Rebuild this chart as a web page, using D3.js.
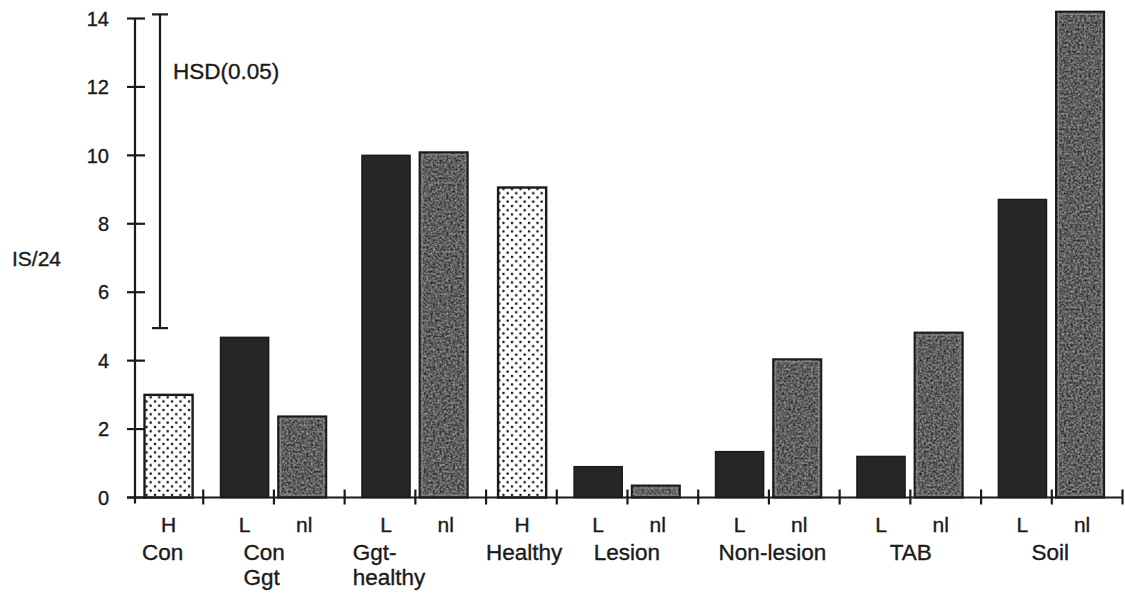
<!DOCTYPE html>
<html><head><meta charset="utf-8">
<script src="https://cdn.jsdelivr.net/npm/d3@7"></script>
<style>
html,body{margin:0;padding:0;background:#fff;}
text{font-family:"Liberation Sans",Arial,Helvetica,sans-serif;fill:#1a1a1a;stroke:#1a1a1a;stroke-width:0.35px;}
</style></head>
<body>
<svg id="chart" width="1125" height="593"></svg>
<script>
// ---- data ----
const groupLabels = ["Con", "Con\nGgt", "Ggt-\nhealthy", "Healthy", "Lesion", "Non-lesion", "TAB", "Soil"];
const barGroup = [0, 1, 1, 2, 2, 3, 4, 4, 5, 5, 6, 6, 7, 7];
const barType  = ["H", "L", "nl", "L", "nl", "H", "L", "nl", "L", "nl", "L", "nl", "L", "nl"];
const values   = [3.0, 4.68, 2.37, 10.0, 10.09, 9.06, 0.9, 0.35, 1.34, 4.04, 1.2, 4.82, 8.71, 14.2];
const yTicks   = [0, 2, 4, 6, 8, 10, 12, 14];
const hsd      = [4.95, 14.12];
const hsdLabel = "HSD(0.05)";
const yLabel   = "IS/24";

// ---- layout ----
const svg = d3.select("#chart");
const x0 = 132.5, x1 = 1122.5, yBase = 497.5, yTop = 18.5;
const x = d3.scaleBand().domain(d3.range(values.length)).range([x0, x1]).paddingInner(0).paddingOuter(0);
const y = d3.scaleLinear().domain([0, 14]).range([yBase, yTop]);
const bw = x.bandwidth();
const barW = bw * 0.68;
const offset = {H: 0.17, L: 0.245, nl: 0.06};
const barX = i => x(i) + bw * offset[barType[i]];

// defs: patterns
const defs = svg.append("defs");
const dots = defs.append("pattern").attr("id", "dots").attr("patternUnits", "userSpaceOnUse")
  .attr("width", 8.5).attr("height", 8.5);
dots.append("rect").attr("width", 8.5).attr("height", 8.5).attr("fill", "#fff");
dots.append("circle").attr("cx", 2).attr("cy", 2).attr("r", 1.3).attr("fill", "#111");
dots.append("circle").attr("cx", 6.25).attr("cy", 6.25).attr("r", 1.3).attr("fill", "#111");

const f = defs.append("filter").attr("id", "grain").attr("x", 0).attr("y", 0).attr("width", 1).attr("height", 1)
  .attr("color-interpolation-filters", "sRGB");
f.append("feTurbulence").attr("type", "fractalNoise").attr("baseFrequency", 0.45).attr("numOctaves", 2).attr("seed", 5);
f.append("feColorMatrix").attr("type", "matrix")
  .attr("values", "0.7 0 0 0 0.02  0.7 0 0 0 0.02  0.7 0 0 0 0.02  0 0 0 0 1");

// bars
const bars = svg.append("g");
values.forEach((v, i) => {
  const t = barType[i];
  const bx = barX(i), by = y(v), bh = yBase - y(v);
  if (t === "nl") {
    bars.append("rect").attr("x", bx).attr("y", by).attr("width", barW).attr("height", bh)
      .attr("fill", "#555").attr("filter", "url(#grain)");
    bars.append("rect").attr("x", bx + 2.5).attr("y", by + 2.5).attr("width", barW - 5).attr("height", Math.max(0, bh - 5))
      .attr("fill", "none").attr("stroke", "#8a8a8a").attr("stroke-width", 1);
    bars.append("rect").attr("x", bx).attr("y", by).attr("width", barW).attr("height", bh)
      .attr("fill", "none").attr("stroke", "#1a1a1a").attr("stroke-width", 2);
  } else if (t === "L") {
    bars.append("rect").attr("x", bx).attr("y", by).attr("width", barW).attr("height", bh)
      .attr("fill", "#262626").attr("stroke", "#1a1a1a").attr("stroke-width", 1.5);
  } else {
    bars.append("rect").attr("x", bx).attr("y", by).attr("width", barW).attr("height", bh)
      .attr("fill", "url(#dots)").attr("stroke", "#1a1a1a").attr("stroke-width", 2.4);
  }
});

// x axis
const ax = svg.append("g").attr("stroke", "#1a1a1a").attr("stroke-width", 2.2);
ax.append("line").attr("x1", 127).attr("x2", x1).attr("y1", yBase).attr("y2", yBase);
d3.range(1, values.length + 1).forEach(k => {
  const tx = x0 + k * bw;
  ax.append("line").attr("x1", tx).attr("x2", tx).attr("y1", yBase - 8).attr("y2", yBase + 7);
});

// y axis
const yAxisX = 135;
const ay = svg.append("g").attr("stroke", "#1a1a1a").attr("stroke-width", 2.2);
ay.append("line").attr("x1", yAxisX).attr("x2", yAxisX).attr("y1", y(14)).attr("y2", yBase + 6);
yTicks.forEach(t => {
  ay.append("line").attr("x1", yAxisX - 8).attr("x2", yAxisX + 10).attr("y1", y(t)).attr("y2", y(t));
});
svg.append("g").selectAll("text").data(yTicks).join("text")
  .attr("x", 109).attr("y", d => y(d)).attr("dy", "0.36em").attr("text-anchor", "end")
  .attr("font-size", 20).text(d => d);

svg.append("text").attr("x", 12).attr("y", y(7)).attr("dy", "0.36em")
  .attr("font-size", 21).text(yLabel);

// HSD bar
const hx = 160;
const hg = svg.append("g").attr("stroke", "#1a1a1a").attr("stroke-width", 2.2);
hg.append("line").attr("x1", hx).attr("x2", hx).attr("y1", y(hsd[1])).attr("y2", y(hsd[0]));
hsd.forEach(v => hg.append("line").attr("x1", hx - 8).attr("x2", hx + 8).attr("y1", y(v)).attr("y2", y(v)));
svg.append("text").attr("x", 173).attr("y", 79).attr("font-size", 22.5).text(hsdLabel);

// sub labels
svg.append("g").selectAll("text").data(values).join("text")
  .attr("x", (d, i) => barX(i) + barW / 2 + (barType[i] === "nl" ? 2 : 0))
  .attr("y", 532).attr("text-anchor", "middle").attr("font-size", 21)
  .text((d, i) => barType[i]);

// group labels
const groupShift = [-6, -10, -34, 2, 0, 4, 1, -1];
groupLabels.forEach((lab, g) => {
  const idx = d3.range(values.length).filter(i => barGroup[i] === g);
  const cx = d3.mean(idx, i => barX(i) + barW / 2) + groupShift[g];
  const lines = lab.split("\n");
  const t = svg.append("text").attr("font-size", 22.5).attr("text-anchor", lines.length > 1 ? "start" : "middle");
  if (lines.length > 1) {
    lines.forEach((ln, k) => t.append("tspan").attr("x", cx - 20 + (g === 2 ? -8 : 0)).attr("y", 560 + k * 25).text(ln));
  } else {
    t.attr("x", cx).attr("y", 560).text(lab);
  }
});
</script>
</body></html>
